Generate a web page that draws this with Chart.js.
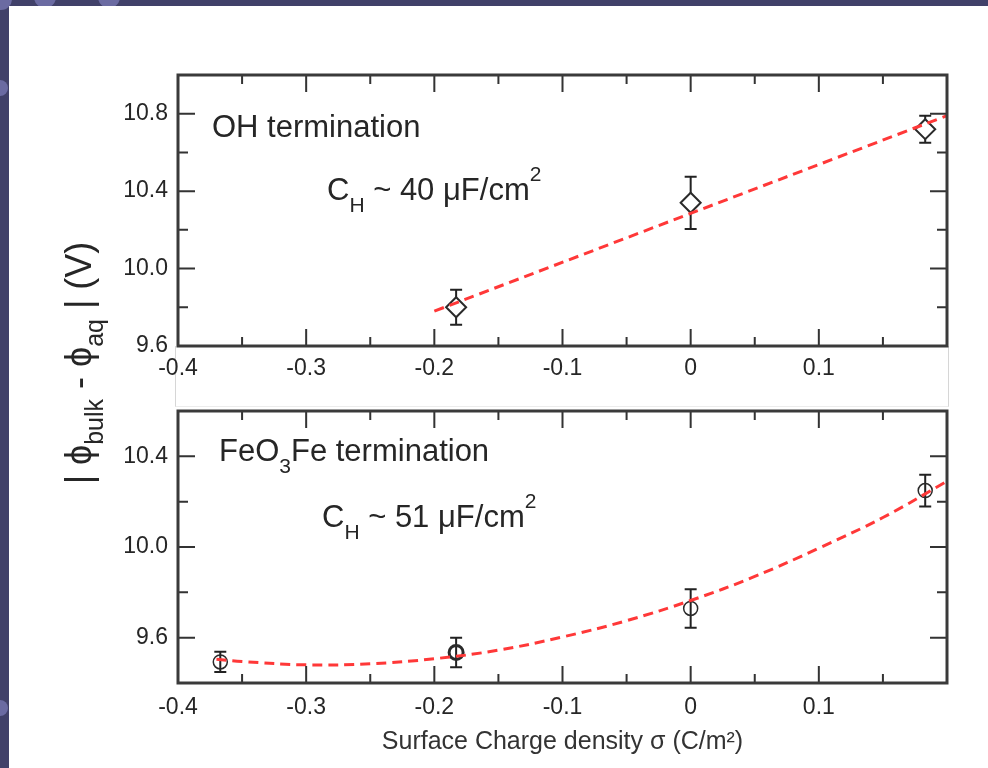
<!DOCTYPE html>
<html><head><meta charset="utf-8">
<script src="https://cdn.jsdelivr.net/npm/chart.js@4"></script>
<style>
html,body{margin:0;padding:0;}
body{width:988px;height:768px;background:#414169;position:relative;overflow:hidden;}
#panel{position:absolute;left:9px;top:6px;width:979px;height:762px;background:#fff;}
.dot{position:absolute;border-radius:50%;background:#6b6ba2;}
#seam{position:absolute;left:175px;top:346px;width:772px;height:60px;border-left:1px solid #d6d6d6;border-right:1px solid #d6d6d6;border-bottom:1px solid #ececec;}
canvas{position:absolute;left:0;top:0;}
</style></head>
<body>
<div class="dot" style="left:-10px;top:-12px;width:22px;height:22px"></div>
<div class="dot" style="left:34px;top:-14px;width:22px;height:22px"></div>
<div class="dot" style="left:98px;top:-14px;width:22px;height:22px"></div>
<div class="dot" style="left:-8px;top:80px;width:16px;height:16px"></div>
<div class="dot" style="left:-8px;top:700px;width:16px;height:16px"></div>
<div id="panel"></div>
<div id="seam"></div>
<canvas id="c2" width="988" height="768"></canvas>
<canvas id="c1" width="988" height="768"></canvas>
<script>
// ---------- data ----------
const xTickLabels = [-0.4, -0.3, -0.2, -0.1, 0, 0.1];
const xMinorTicks = [-0.35, -0.25, -0.15, -0.05, 0.05, 0.15];
const ohYTicks = [9.6, 10.0, 10.4, 10.8];
const ohYMinor = [9.8, 10.2, 10.6];
const feYTicks = [9.6, 10.0, 10.4];
const feYMinor = [9.8, 10.2];

// OH termination
const ohSigma = [-0.183, 0, 0.183];
const ohPhi = [9.80, 10.34, 10.72];
const ohErr = [0.09, 0.135, 0.07];
const ohFitSigma = [-0.2, 0.2];
const ohFitPhi = [9.78, 10.79];

// FeO3Fe termination
const feSigma = [-0.367, -0.183, 0, 0.183];
const fePhi = [9.493, 9.535, 9.729, 10.249];
const feErr = [0.045, 0.065, 0.085, 0.07];
const feFitSigma = [-0.37, -0.35, -0.3, -0.25, -0.2, -0.15, -0.1, -0.05, 0, 0.05, 0.1, 0.15, 0.2];
const feFitPhi = [9.505, 9.495, 9.48, 9.485, 9.507, 9.545, 9.603, 9.675, 9.764, 9.87, 9.995, 10.13, 10.29];

// ---------- helpers ----------
const FONT = "'Liberation Sans', Arial, Helvetica, sans-serif";
const INK = '#262626';
const pts = (xs, ys) => xs.map((x, i) => ({x: x, y: ys[i]}));

function framePlugin(yMajor, yMinor) {
  return {
    id: 'frameTicks',
    afterDatasetsDraw(chart) {
      const ctx = chart.ctx, a = chart.chartArea;
      const xs = chart.scales.x, ys = chart.scales.y;
      ctx.save();
      ctx.strokeStyle = '#333';
      ctx.lineWidth = 2;
      const tick = (vals, len, isX) => {
        vals.forEach(v => {
          ctx.beginPath();
          if (isX) {
            const p = xs.getPixelForValue(v);
            ctx.moveTo(p, a.bottom); ctx.lineTo(p, a.bottom - len);
            ctx.moveTo(p, a.top); ctx.lineTo(p, a.top + len);
          } else {
            const p = ys.getPixelForValue(v);
            ctx.moveTo(a.left, p); ctx.lineTo(a.left + len, p);
            ctx.moveTo(a.right, p); ctx.lineTo(a.right - len, p);
          }
          ctx.stroke();
        });
      };
      tick(xTickLabels, 17, true);
      tick(xMinorTicks, 9, true);
      tick(yMajor, 17, false);
      tick(yMinor, 10, false);
      ctx.lineWidth = 3;
      ctx.strokeStyle = '#3a3a3a';
      ctx.strokeRect(a.left, a.top, a.right - a.left, a.bottom - a.top);
      ctx.restore();
    }
  };
}

function errorPlugin(xv, yv, ev) {
  return {
    id: 'errBars',
    beforeDatasetsDraw(chart) {
      const ctx = chart.ctx, xs = chart.scales.x, ys = chart.scales.y;
      ctx.save();
      ctx.strokeStyle = '#222';
      ctx.lineWidth = 2;
      xv.forEach((x, i) => {
        const px = xs.getPixelForValue(x);
        const t = ys.getPixelForValue(yv[i] + ev[i]);
        const b = ys.getPixelForValue(yv[i] - ev[i]);
        ctx.beginPath();
        ctx.moveTo(px, t); ctx.lineTo(px, b);
        ctx.moveTo(px - 6, t); ctx.lineTo(px + 6, t);
        ctx.moveTo(px - 6, b); ctx.lineTo(px + 6, b);
        ctx.stroke();
      });
      ctx.restore();
    }
  };
}

function drawRich(ctx, x, y, parts, base) {
  parts.forEach(p => {
    ctx.font = (p.s || base) + 'px ' + FONT;
    ctx.fillText(p.t, x, y + (p.dy || 0));
    x += ctx.measureText(p.t).width;
  });
}
function richWidth(ctx, parts, base) {
  let w = 0;
  parts.forEach(p => { ctx.font = (p.s || base) + 'px ' + FONT; w += ctx.measureText(p.t).width; });
  return w;
}

function textPlugin(items, withYTitle) {
  return {
    id: 'richText',
    afterDraw(chart) {
      const ctx = chart.ctx, a = chart.chartArea;
      ctx.save();
      ctx.fillStyle = INK;
      ctx.textAlign = 'left';
      ctx.textBaseline = 'alphabetic';
      items.forEach(it => drawRich(ctx, a.left + it.dx, a.top + it.dy, it.parts, 31));
      if (withYTitle) {
        const parts = [{t: '| ϕ'}, {t: 'bulk', s: 25, dy: 12}, {t: ' - ϕ'}, {t: 'aq', s: 25, dy: 12}, {t: ' | (V)'}];
        const w = richWidth(ctx, parts, 36);
        ctx.translate(91, 363);
        ctx.rotate(-Math.PI / 2);
        drawRich(ctx, -w / 2, 0, parts, 36);
      }
      ctx.restore();
    }
  };
}

function fixedTicks(vals) {
  return scale => { scale.ticks = vals.map(v => ({value: v})); };
}

function makeChart(canvasId, cfg) {
  return new Chart(document.getElementById(canvasId), {
    type: 'scatter',
    data: {
      datasets: [
        {
          label: cfg.label,
          data: pts(cfg.xs, cfg.ys),
          pointStyle: cfg.pointStyle,
          pointRadius: cfg.pointRadius,
          pointBorderWidth: cfg.pointBorderWidth,
          pointBorderColor: '#2a2a2a',
          pointBackgroundColor: cfg.pointFill,
          showLine: false,
          order: 1
        },
        {
          label: cfg.label + ' fit',
          data: pts(cfg.fitX, cfg.fitY),
          showLine: true,
          borderColor: '#ff3838',
          borderWidth: 3,
          borderDash: [10, 6],
          tension: 0.4,
          pointRadius: 0,
          fill: false,
          order: 0
        }
      ]
    },
    options: {
      responsive: false,
      animation: false,
      devicePixelRatio: 1,
      events: [],
      layout: {padding: {left: 0, right: 41, top: cfg.padTop, bottom: cfg.padBottom}},
      plugins: {legend: {display: false}, tooltip: {enabled: false}},
      scales: {
        x: {
          type: 'linear',
          min: -0.4, max: 0.2,
          afterBuildTicks: fixedTicks(xTickLabels),
          afterFit: s => { s.height = cfg.xHeight; },
          grid: {display: false, drawTicks: false},
          border: {display: false},
          ticks: {
            padding: cfg.xPad,
            color: INK,
            font: {family: FONT, size: 23},
            maxRotation: 0,
            autoSkip: false,
            callback: v => (v === 0 ? '0' : v.toFixed(1))
          },
          title: cfg.xTitle ? {
            display: true,
            text: 'Surface Charge density σ (C/m²)',
            color: '#333',
            font: {family: FONT, size: 25},
            padding: {top: 0, bottom: 11}
          } : {display: false}
        },
        y: {
          type: 'linear',
          min: cfg.yMin, max: cfg.yMax,
          afterBuildTicks: fixedTicks(cfg.yTicks),
          afterFit: s => { s.width = 178; },
          grid: {display: false, drawTicks: false},
          border: {display: false},
          ticks: {
            padding: 10,
            color: INK,
            font: {family: FONT, size: 23},
            autoSkip: false,
            callback: v => v.toFixed(1)
          }
        }
      }
    },
    plugins: [
      errorPlugin(cfg.xs, cfg.ys, cfg.errs),
      framePlugin(cfg.yTicks, cfg.yMinor),
      textPlugin(cfg.texts, cfg.yTitle)
    ]
  });
}

makeChart('c1', {
  label: 'OH termination',
  xs: ohSigma, ys: ohPhi, errs: ohErr,
  fitX: ohFitSigma, fitY: ohFitPhi,
  pointStyle: 'rectRot', pointRadius: 10, pointBorderWidth: 2, pointFill: '#ffffff',
  yMin: 9.6, yMax: 11.0, yTicks: ohYTicks, yMinor: ohYMinor,
  padTop: 75, padBottom: 373, xHeight: 49, xPad: 9, xTitle: false, yTitle: true,
  texts: [
    {dx: 34, dy: 62, parts: [{t: 'OH termination'}]},
    {dx: 149, dy: 125, parts: [{t: 'C'}, {t: 'H', s: 21, dy: 12}, {t: ' ~ 40 μF/cm'}, {t: '2', s: 21, dy: -19}]}
  ]
});

makeChart('c2', {
  label: 'FeO3Fe termination',
  xs: feSigma, ys: fePhi, errs: feErr,
  fitX: feFitSigma, fitY: feFitPhi,
  pointStyle: 'circle', pointRadius: 7, pointBorderWidth: [1.5, 3, 1.5, 1.5], pointFill: 'rgba(0,0,0,0)',
  yMin: 9.4, yMax: 10.6, yTicks: feYTicks, yMinor: feYMinor,
  padTop: 411, padBottom: 0, xHeight: 85, xPad: 11, xTitle: true, yTitle: false,
  texts: [
    {dx: 41, dy: 50, parts: [{t: 'FeO'}, {t: '3', s: 21, dy: 12}, {t: 'Fe termination'}]},
    {dx: 144, dy: 116, parts: [{t: 'C'}, {t: 'H', s: 21, dy: 12}, {t: ' ~ 51 μF/cm'}, {t: '2', s: 21, dy: -19}]}
  ]
});
</script>
</body></html>
